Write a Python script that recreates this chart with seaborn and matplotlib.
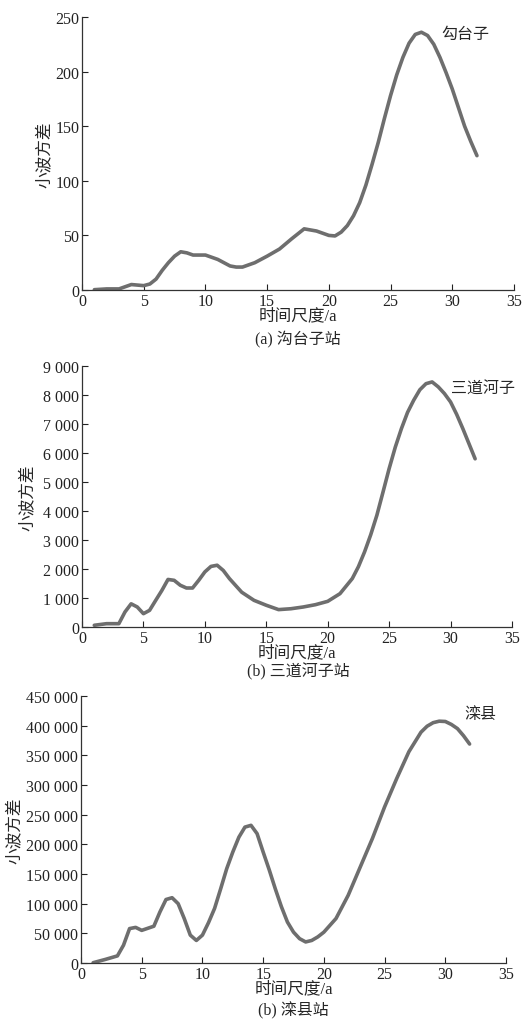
import matplotlib
matplotlib.use("Agg")
import matplotlib.pyplot as plt
import seaborn as sns
import pandas as pd

# 时间尺度 (a) 与小波方差
x_gtz = [1, 2, 3, 4, 5, 5.5, 6, 6.5, 7, 7.5, 8, 8.5, 9, 10, 11, 12, 12.5, 13, 14, 15,
         16, 17, 18, 19, 20, 20.5, 21, 21.5, 22, 22.5, 23, 23.5, 24, 24.5, 25, 25.5, 26,
         26.5, 27, 27.5, 28, 28.5, 29, 29.5, 30, 30.5, 31, 31.5, 32]
var_gtz = [0.3, 1, 1, 5, 4, 5.5, 10, 18, 25, 31, 35, 34, 32, 32, 28, 22, 21, 21, 25, 31,
           37.5, 47, 56, 54, 50, 49.5, 53, 59, 68, 80, 96, 115, 135, 157, 178, 197, 213,
           226, 234, 236, 233, 225, 213, 199, 184, 167, 150, 136, 123]

x_sdhz = [1, 2, 3, 3.5, 4, 4.5, 5, 5.5, 6, 6.5, 7, 7.5, 8, 8.5, 9, 9.5, 10, 10.5, 11, 11.5,
          12, 13, 14, 15, 16, 17, 18, 19, 20, 21, 22, 22.5, 23, 23.5, 24, 24.5, 25, 25.5, 26,
          26.5, 27, 27.5, 28, 28.5, 29, 29.5, 30, 30.5, 31, 31.5, 32]
var_sdhz = [60, 115, 115, 520, 800, 690, 460, 575, 920, 1260, 1640, 1610, 1440, 1345, 1345, 1610,
            1900, 2090, 2130, 1950, 1670, 1200, 920, 750, 600, 630, 690, 770, 885, 1150, 1670,
            2080, 2590, 3180, 3850, 4650, 5460, 6200, 6840, 7400, 7820, 8180, 8390, 8450, 8280,
            8050, 7760, 7330, 6840, 6320, 5800]

x_lx = [1, 2, 3, 3.5, 4, 4.5, 5, 6, 6.5, 7, 7.5, 8, 8.5, 9, 9.5, 10, 10.5, 11, 11.5, 12, 12.5,
        13, 13.5, 14, 14.5, 15, 15.5, 16, 16.5, 17, 17.5, 18, 18.5, 19, 19.5, 20, 21, 22, 23,
        24, 25, 26, 27, 28, 28.5, 29, 29.5, 30, 30.5, 31, 31.5, 32]
var_lx = [500, 6000, 12000, 30000, 58000, 60000, 55000, 62000, 86000, 107000, 110000, 100000,
          75000, 47000, 38000, 47000, 68000, 92000, 125000, 159000, 187000, 212000, 229000,
          232000, 218000, 187000, 157000, 125000, 95000, 69000, 52000, 41000, 35500, 38000,
          44000, 52000, 75000, 114000, 162000, 210000, 263000, 311000, 356000, 389000, 399000,
          405000, 407500, 407000, 402000, 395000, 383000, 369000]

y_ticks_gtz = [0, 50, 100, 150, 200, 250]
y_ticks_sdhz = list(range(0, 9001, 1000))
y_ticks_lx = list(range(0, 450001, 50000))
x_ticks = [0, 5, 10, 15, 20, 25, 30, 35]

station_names = ["勾台子", "三道河子", "滦县"]
captions = ["(a) 沟台子站", "(b) 三道河子站", "(b) 滦县站"]

sns.set_style("ticks")
plt.rcParams['font.family'] = ['Liberation Serif', 'Noto Sans CJK SC']
plt.rcParams['xtick.direction'] = 'in'
plt.rcParams['ytick.direction'] = 'in'

fig = plt.figure(figsize=(5.27, 10.2), dpi=100)

# [left, bottom, width, height]
positions = [
    [0.1556, 0.7147, 0.8197, 0.2677],
    [0.1556, 0.3843, 0.8159, 0.2559],
    [0.1537, 0.0549, 0.8065, 0.2618],
]
ylabel_x = [45, 28, 15]
caption_y = [340, 672, 1011]
name_pos = [(465, 35), (483, 390), (480, 715)]

panels = [
    (x_gtz, var_gtz, y_ticks_gtz),
    (x_sdhz, var_sdhz, y_ticks_sdhz),
    (x_lx, var_lx, y_ticks_lx),
]

def fmt_num(v):
    return f"{v:,}".replace(",", " ")

for i, (xs, ys, yt) in enumerate(panels):
    ax = fig.add_axes(positions[i])
    df = pd.DataFrame({"t": xs, "v": ys})
    sns.lineplot(data=df, x="t", y="v", ax=ax, color="#6e6e6e", linewidth=2.6,
                 solid_joinstyle="round", solid_capstyle="round")
    ax.set_xlim(0, 35)
    ax.set_ylim(0, yt[-1])
    ax.set_xticks(x_ticks)
    ax.set_xticklabels([str(t) for t in x_ticks], fontsize=11.5)
    ax.set_yticks(yt)
    ax.set_yticklabels([fmt_num(t) for t in yt], fontsize=11.5)
    ax.tick_params(length=4, width=0.8, pad=2, colors="#222222")
    for s in ["top", "right"]:
        ax.spines[s].set_visible(False)
    for s in ["left", "bottom"]:
        ax.spines[s].set_color("#333333")
        ax.spines[s].set_linewidth(0.9)
    ax.set_xlabel("时间尺度/a", fontsize=12, labelpad=-1)
    ax.set_ylabel("")
    fig.text(ylabel_x[i] / 527, (positions[i][1] + positions[i][3] / 2), "小波方差",
             rotation=90, ha="center", va="center", fontsize=12)
    fig.text(0.5655 if i < 2 else 0.557, 1 - caption_y[i] / 1020, captions[i],
             ha="center", va="center", fontsize=11.5)
    nx, ny = name_pos[i]
    fig.text(nx / 527, 1 - ny / 1020, station_names[i], ha="center", va="center",
             fontsize=11.5)

fig.savefig("out.png", dpi=100, facecolor="white")
